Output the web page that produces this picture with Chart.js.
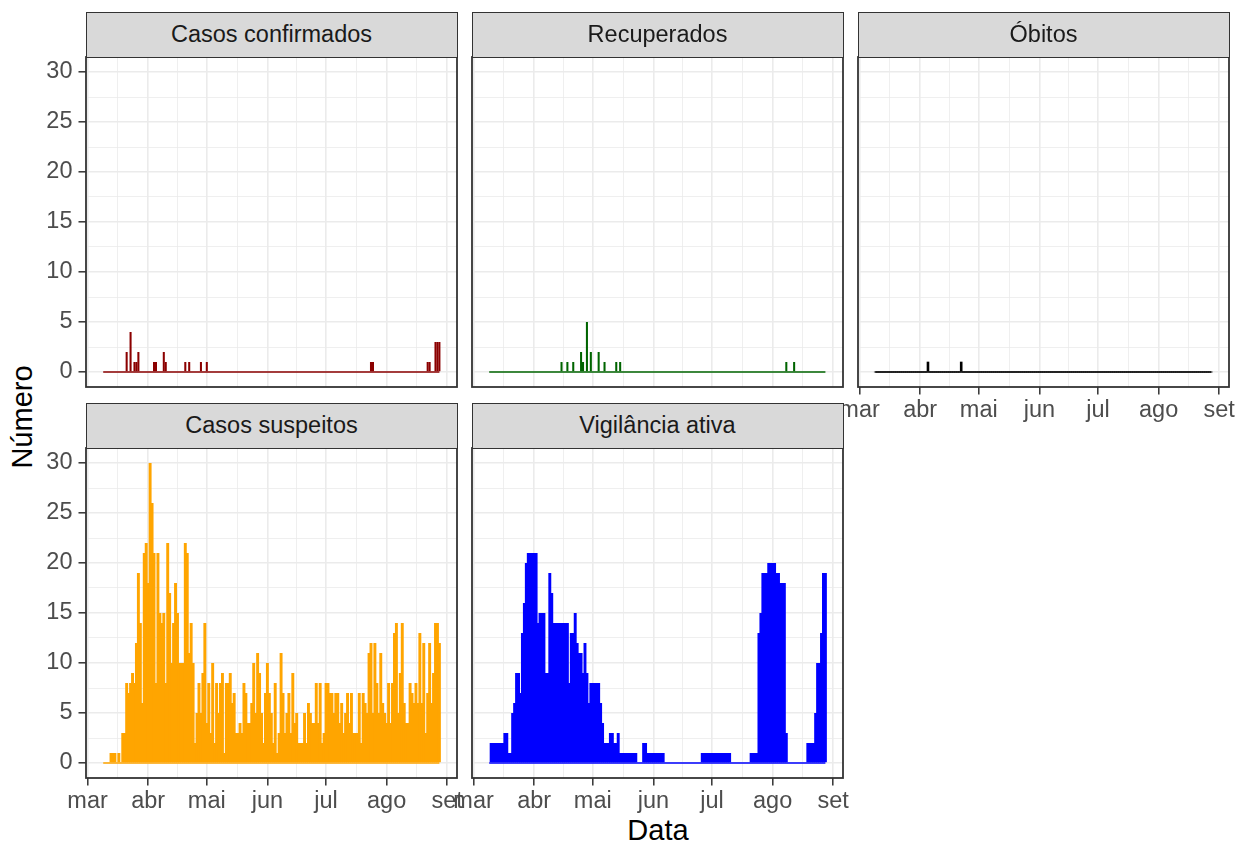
<!DOCTYPE html>
<html lang="pt">
<head>
<meta charset="utf-8">
<title>Painéis</title>
<script src="https://cdn.jsdelivr.net/npm/chart.js@4.4.1/dist/chart.umd.min.js"></script>
<style>
  html, body { margin: 0; padding: 0; background: #fff; }
  body { position: relative; width: 1239px; height: 845px; overflow: hidden;
         font-family: "Liberation Sans", Arial, sans-serif; }
  .panel { position: absolute; }
  .panel canvas { display: block; }
  .strip { position: absolute; box-sizing: border-box; background: #d9d9d9;
           border: 1.6px solid #333333; color: #1a1a1a; font-size: 23.5px;
           display: flex; align-items: center; justify-content: center; z-index: 2; }
  .axis-title { position: absolute; color: #000; font-size: 29px; text-align: center;
                width: 240px; height: 34px; line-height: 34px; }
</style>
</head>
<body>
<div class="axis-title" id="ytitle" style="left:-98px; top:400px; transform: rotate(-90deg);">Número</div>
<div class="axis-title" id="xtitle" style="left:538px; top:813px;">Data</div>

<script>
// dates: first day of data, month breaks on the x axis
const firstDay = '2020-03-09';
const monthStarts = ['2020-03-01', '2020-04-01', '2020-05-01', '2020-06-01',
                     '2020-07-01', '2020-08-01', '2020-09-01'];
const monthLabels = ['mar', 'abr', 'mai', 'jun', 'jul', 'ago', 'set'];
const yTicks = [0, 5, 10, 15, 20, 25, 30];

const panelTitles = ['Casos confirmados', 'Recuperados', 'Óbitos', 'Casos suspeitos', 'Vigilância ativa'];

// daily counts, one value per day from firstDay (09/03) to 28/08
const casosConfirmados = [
  0,0,0,0,0,0,0,0,0,0,   // 09/03
  0,0,2,0,4,0,1,1,2,0,
  0,0,0,0,0,0,1,1,0,0,
  0,2,1,0,0,0,0,0,0,0,
  0,0,1,0,1,0,0,0,0,0,
  1,0,0,1,0,0,0,0,0,0,
  0,0,0,0,0,0,0,0,0,0,
  0,0,0,0,0,0,0,0,0,0,
  0,0,0,0,0,0,0,0,0,0,
  0,0,0,0,0,0,0,0,0,0,
  0,0,0,0,0,0,0,0,0,0,
  0,0,0,0,0,0,0,0,0,0,
  0,0,0,0,0,0,0,0,0,0,
  0,0,0,0,0,0,0,1,1,0,
  0,0,0,0,0,0,0,0,0,0,
  0,0,0,0,0,0,0,0,0,0,
  0,0,0,0,0,0,1,1,0,0,
  3,3,3
];
const recuperados = [
  0,0,0,0,0,0,0,0,0,0,
  0,0,0,0,0,0,0,0,0,0,
  0,0,0,0,0,0,0,0,0,0,
  0,0,0,0,0,0,0,1,0,0,
  1,0,0,1,0,0,0,2,1,0,
  5,0,2,0,0,0,2,0,0,1,
  0,0,0,0,0,1,0,1,0,0,
  0,0,0,0,0,0,0,0,0,0,
  0,0,0,0,0,0,0,0,0,0,
  0,0,0,0,0,0,0,0,0,0,
  0,0,0,0,0,0,0,0,0,0,
  0,0,0,0,0,0,0,0,0,0,
  0,0,0,0,0,0,0,0,0,0,
  0,0,0,0,0,0,0,0,0,0,
  0,0,0,0,0,0,0,0,0,0,
  0,0,1,0,0,0,1,0,0,0,
  0,0,0,0,0,0,0,0,0,0,
  0,0,0
];
const obitos = [
  0,0,0,0,0,0,0,0,0,0,
  0,0,0,0,0,0,0,0,0,0,
  0,0,0,0,0,0,0,1,0,0,
  0,0,0,0,0,0,0,0,0,0,
  0,0,0,0,1,0,0,0,0,0,
  0,0,0,0,0,0,0,0,0,0,
  0,0,0,0,0,0,0,0,0,0,
  0,0,0,0,0,0,0,0,0,0,
  0,0,0,0,0,0,0,0,0,0,
  0,0,0,0,0,0,0,0,0,0,
  0,0,0,0,0,0,0,0,0,0,
  0,0,0,0,0,0,0,0,0,0,
  0,0,0,0,0,0,0,0,0,0,
  0,0,0,0,0,0,0,0,0,0,
  0,0,0,0,0,0,0,0,0,0,
  0,0,0,0,0,0,0,0,0,0,
  0,0,0,0,0,0,0,0,0,0,
  0,0,0
];
const casosSuspeitos = [
  0,0,0,0,1,1,1,0,1,0,
  3,3,8,7,8,9,8,12,19,14,
  6,21,22,18,30,26,21,8,21,15,
  14,15,8,22,17,10,14,18,15,10,
  10,10,22,21,11,14,10,2,5,8,
  5,9,14,4,8,3,10,2,8,5,
  8,9,1,8,8,9,6,7,3,3,
  4,3,8,7,4,4,6,10,5,11,
  9,5,2,7,10,7,5,2,8,1,
  3,11,7,3,5,7,3,9,4,5,
  2,2,2,5,2,6,5,4,4,8,
  4,8,2,3,8,8,7,7,5,7,
  7,4,6,3,5,7,4,7,3,3,
  3,7,2,7,6,5,11,12,5,12,
  8,5,11,6,5,4,8,4,8,13,
  14,5,9,14,6,4,4,8,7,6,
  8,6,13,6,12,3,7,12,6,9,
  14,14,12
];
const vigilanciaAtiva = [
  0,2,2,2,2,2,2,2,3,3,
  1,1,5,6,9,9,7,13,16,20,
  21,21,21,21,21,14,15,15,15,9,
  9,19,17,14,14,14,14,14,14,14,
  14,8,13,13,15,12,11,11,9,12,
  9,6,8,8,8,8,8,6,4,2,
  2,2,3,3,2,2,3,1,1,1,
  1,1,1,1,1,1,0,0,0,2,
  2,1,1,1,1,1,1,1,1,1,
  0,0,0,0,0,0,0,0,0,0,
  0,0,0,0,0,0,0,0,0,1,
  1,1,1,1,1,1,1,1,1,1,
  1,1,1,1,0,0,0,0,0,0,
  0,0,0,0,1,1,1,1,13,15,
  19,19,19,20,20,20,20,19,19,18,
  18,18,3,0,0,0,0,0,0,0,
  0,0,0,2,2,2,2,5,10,10,
  13,19,19
];

// day numbers counted from 1 March
const origin = Date.parse(monthStarts[0]);
function dayOf(s) { return Math.round((Date.parse(s) - origin) / 864e5); }
const start = dayOf(firstDay);
const days = casosSuspeitos.map((_, i) => start + i);

const majorX = monthStarts.map(dayOf);
const minorX = majorX.slice(1).map((d, i) => (d + majorX[i]) / 2);
const xTickValues = majorX.concat(minorX).sort((a, b) => a - b);
const minorY = yTicks.slice(1).map((v, i) => (v + yTicks[i]) / 2);
const yTickValues = yTicks.concat(minorY).sort((a, b) => a - b);

// facet grid geometry
const COL_X = [86, 472, 858];
const ROW_Y = [57, 448];
const PANEL_W = 371, PANEL_H = 330, STRIP_H = 45;
const Y_AXIS_W = 86, X_AXIS_H = 48, PAD = 26;
const X_MIN = -0.8, X_MAX = 189, Y_MIN = -1.5, Y_MAX = 31.5;

Chart.defaults.font.family = '"Liberation Sans", Arial, sans-serif';
Chart.defaults.font.size = 23.5;
Chart.defaults.color = '#4d4d4d';

const panelBorder = {
  id: 'panelBorder',
  afterDraw(chart) {
    const a = chart.chartArea;
    const ctx = chart.ctx;
    ctx.save();
    ctx.strokeStyle = '#333333';
    ctx.lineWidth = 1.8;
    ctx.strokeRect(a.left, a.top, a.right - a.left, a.bottom - a.top);
    ctx.restore();
  }
};

// dense panels get overlapping bars so no seams show between days
const panels = [
  { title: panelTitles[0], values: casosConfirmados, color: '#8b0000', col: 0, row: 0, yAxis: true,  xAxis: false, bar: 1.05 },
  { title: panelTitles[1], values: recuperados,      color: '#006400', col: 1, row: 0, yAxis: false, xAxis: false, bar: 1.05 },
  { title: panelTitles[2], values: obitos,           color: '#000000', col: 2, row: 0, yAxis: false, xAxis: true,  bar: 1.0 },
  { title: panelTitles[3], values: casosSuspeitos,   color: '#ffa500', col: 0, row: 1, yAxis: true,  xAxis: true,  bar: 1.5 },
  { title: panelTitles[4], values: vigilanciaAtiva,  color: '#0000ff', col: 1, row: 1, yAxis: false, xAxis: true,  bar: 1.5 }
];

function makePanel(p) {
  const padL = p.yAxis ? 0 : 24;
  const padR = p.col === 2 ? 1239 - (COL_X[2] + PANEL_W) : 24;
  const yW = p.yAxis ? Y_AXIS_W : 0;
  const xH = p.xAxis ? X_AXIS_H : 0;

  const box = document.createElement('div');
  box.className = 'panel';
  box.style.left = (COL_X[p.col] - yW - padL) + 'px';
  box.style.top = (ROW_Y[p.row] - PAD) + 'px';
  box.style.width = (padL + yW + PANEL_W + padR) + 'px';
  box.style.height = (PAD + PANEL_H + xH + PAD) + 'px';
  const canvas = document.createElement('canvas');
  box.appendChild(canvas);
  document.body.appendChild(box);

  const strip = document.createElement('div');
  strip.className = 'strip';
  strip.textContent = p.title;
  strip.style.left = (COL_X[p.col] - 0.5) + 'px';
  strip.style.top = (ROW_Y[p.row] - STRIP_H) + 'px';
  strip.style.width = (PANEL_W + 1) + 'px';
  strip.style.height = (STRIP_H + 0.8) + 'px';
  document.body.appendChild(strip);

  new Chart(canvas, {
    type: 'bar',
    data: {
      datasets: [
        {
          type: 'bar',
          data: days.map((d, i) => ({ x: d, y: p.values[i] })),
          backgroundColor: p.color,
          borderWidth: 0,
          barPercentage: p.bar,
          categoryPercentage: 1,
          order: 1
        },
        {
          type: 'line',
          data: days.map(d => ({ x: d, y: 0 })),
          borderColor: p.color,
          borderWidth: 1.3,
          pointRadius: 0,
          fill: false,
          order: 0
        }
      ]
    },
    options: {
      responsive: true,
      maintainAspectRatio: false,
      animation: false,
      events: [],
      layout: { padding: { left: padL, right: padR, top: PAD, bottom: PAD } },
      plugins: { legend: { display: false }, tooltip: { enabled: false } },
      scales: {
        x: {
          type: 'linear', min: X_MIN, max: X_MAX, bounds: 'data', offset: false,
          afterBuildTicks: s => { s.ticks = xTickValues.map(v => ({ value: v })); },
          afterFit: s => { s.height = xH; },
          border: { display: false },
          grid: {
            offset: false,
            color: '#ebebeb',
            lineWidth: c => (c.tick && majorX.includes(c.tick.value)) ? 1.6 : 0.8,
            drawTicks: p.xAxis,
            tickLength: 7.5,
            tickWidth: 1.5,
            tickColor: c => (c.tick && majorX.includes(c.tick.value)) ? '#333333' : 'rgba(0,0,0,0)'
          },
          ticks: {
            display: p.xAxis, autoSkip: false, maxRotation: 0, minRotation: 0, padding: 2,
            color: '#4d4d4d',
            callback: v => { const k = majorX.indexOf(v); return k >= 0 ? monthLabels[k] : ''; }
          }
        },
        y: {
          type: 'linear', min: Y_MIN, max: Y_MAX, bounds: 'data', beginAtZero: false,
          afterBuildTicks: s => { s.ticks = yTickValues.map(v => ({ value: v })); },
          afterFit: s => { s.width = yW; },
          border: { display: false },
          grid: {
            color: '#ebebeb',
            lineWidth: c => (c.tick && yTicks.includes(c.tick.value)) ? 1.6 : 0.8,
            drawTicks: p.yAxis,
            tickLength: 7.5,
            tickWidth: 1.5,
            tickColor: c => (c.tick && yTicks.includes(c.tick.value)) ? '#333333' : 'rgba(0,0,0,0)'
          },
          ticks: {
            display: p.yAxis, autoSkip: false, padding: 6,
            color: '#4d4d4d',
            callback: v => yTicks.includes(v) ? String(v) : ''
          }
        }
      }
    },
    plugins: [panelBorder]
  });
}

panels.forEach(makePanel);
</script>
</body>
</html>
